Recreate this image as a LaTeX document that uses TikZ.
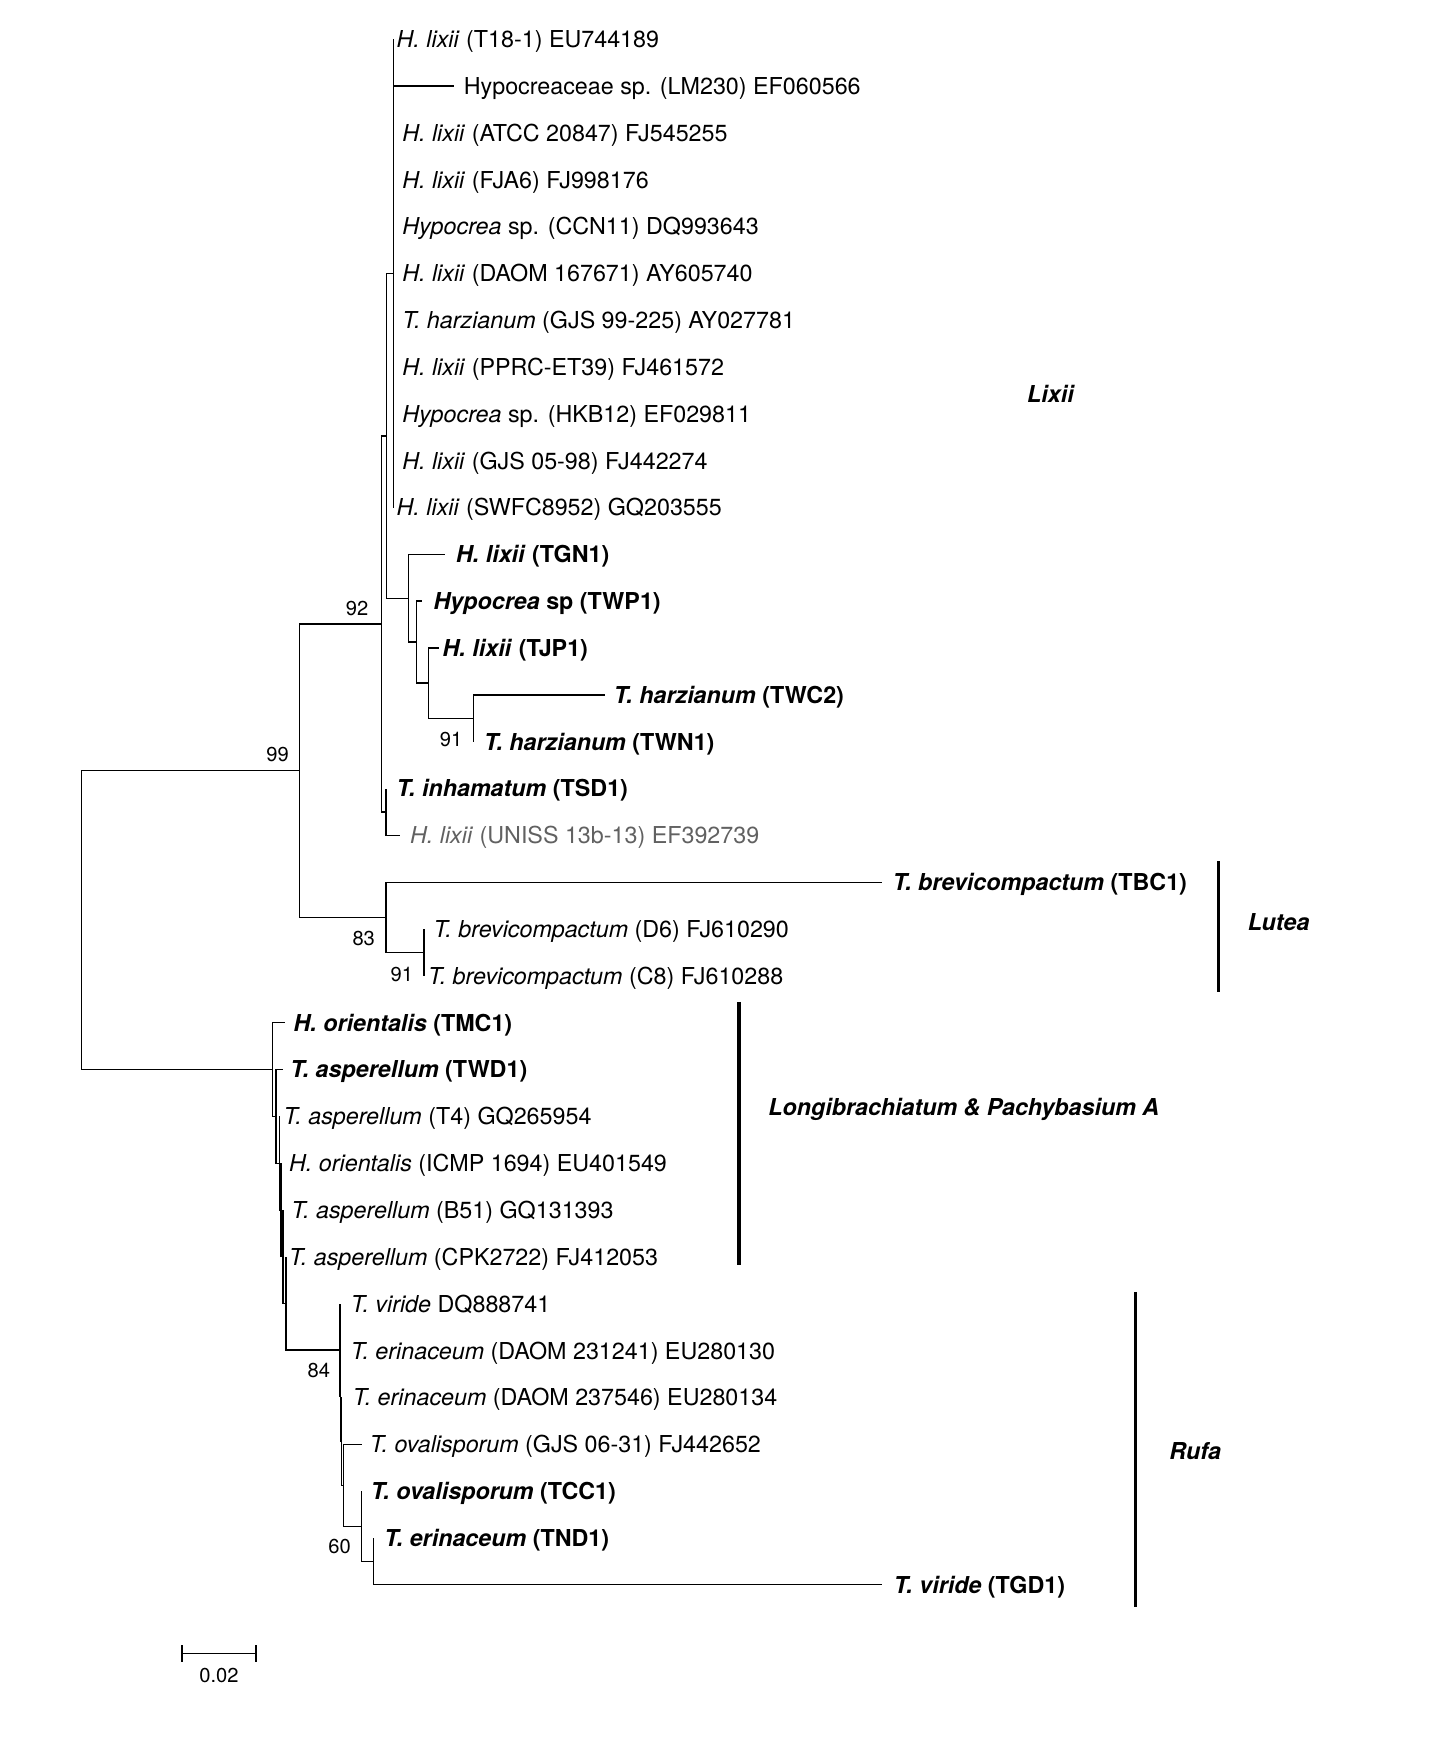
\documentclass[tikz,border=0pt]{standalone}
\usepackage{fontspec}
\setmainfont{TeX Gyre Heros}
\begin{document}
\begin{tikzpicture}[x=1pt,y=-1pt,
  tree/.style={line width=1.25pt, line join=miter},
  cladebar/.style={line width=3.3pt},
  leaf/.style={anchor=base west, inner sep=0pt, font=\fontsize{20.8}{25}\selectfont},
  bleaf/.style={anchor=base west, inner sep=0pt, font=\fontsize{20.8}{25}\selectfont\bfseries},
  boot/.style={anchor=base east, inner sep=0pt, font=\fontsize{18}{22}\selectfont},
  cladelab/.style={anchor=base west, inner sep=0pt, font=\fontsize{20.8}{25}\selectfont\bfseries\itshape}]
\useasboundingbox (0,0) rectangle (1277,1568);

% internal nodes
\coordinate (root) at (73,821.6);
\coordinate (n99) at (267.3,688.1);
\coordinate (n92) at (340.8,557.1);
\coordinate (p2) at (345.3,389.2);
\coordinate (p1) at (351.5,244.1);
\coordinate (tg) at (364.6,534.2);
\coordinate (twp) at (372.1,573.4);
\coordinate (tjp) at (382.5,610.0);
\coordinate (tw) at (422.7,641.4);
\coordinate (inh) at (344.7,725.0);
\coordinate (n83) at (344.7,819.1);
\coordinate (dc) at (378.6,850.5);
\coordinate (l1) at (243.5,955.0);
\coordinate (l2) at (246.5,996.8);
\coordinate (l3) at (249.5,1038.7);
\coordinate (l4) at (251.0,1080.4);
\coordinate (l5) at (252.7,1122.2);
\coordinate (l6) at (255.4,1163.8);
\coordinate (ru0) at (303.6,1205.3);
\coordinate (ruy) at (304.2,1246.5);
\coordinate (ru2) at (305.1,1287.0);
\coordinate (ru3) at (306.9,1326.2);
\coordinate (n60) at (323.0,1362.8);
\coordinate (ntnd) at (333.4,1394.1);

% leaf branch ends
\coordinate (e0) at (351.5,35.0);
\coordinate (e1) at (405,76.8);
\coordinate (e10) at (351.5,453.2);
\coordinate (e11) at (397.4,495.0);
\coordinate (e12) at (376.6,536.8);
\coordinate (e13) at (392.0,578.7);
\coordinate (e14) at (540.0,620.5);
\coordinate (e15) at (422.7,662.3);
\coordinate (e16) at (344.7,704.1);
\coordinate (e17) at (357.2,745.9);
\coordinate (e18) at (788.0,787.8);
\coordinate (e19) at (378.6,829.6);
\coordinate (e20) at (378.6,871.4);
\coordinate (e21) at (254.5,913.2);
\coordinate (e22) at (253.0,955.0);
\coordinate (e23) at (249.5,996.9);
\coordinate (e24) at (251.0,1038.7);
\coordinate (e25) at (252.7,1080.5);
\coordinate (e26) at (255.4,1122.3);
\coordinate (e27) at (303.6,1164.1);
\coordinate (e28) at (304.2,1206.0);
\coordinate (e29) at (305.1,1247.8);
\coordinate (e30) at (323.0,1289.6);
\coordinate (e31) at (323.0,1331.4);
\coordinate (e32) at (333.4,1373.2);
\coordinate (e33) at (788.0,1415.1);

% branches
\draw[tree] (root) |- (n99); \draw[tree] (root) |- (l1);
\draw[tree] (n99) |- (n92); \draw[tree] (n99) |- (n83);
\draw[tree] (n92) |- (p2); \draw[tree] (n92) |- (inh);
\draw[tree] (p2) |- (p1); \draw[tree] (p2) |- (tg);
\draw[tree] (p1) |- (e0); \draw[tree] (p1) |- (e1); \draw[tree] (p1) |- (e10);
\draw[tree] (tg) |- (e11); \draw[tree] (tg) |- (twp);
\draw[tree] (twp) |- (e12); \draw[tree] (twp) |- (tjp);
\draw[tree] (tjp) |- (e13); \draw[tree] (tjp) |- (tw);
\draw[tree] (tw) |- (e14); \draw[tree] (tw) |- (e15);
\draw[tree] (inh) |- (e16); \draw[tree] (inh) |- (e17);
\draw[tree] (n83) |- (e18); \draw[tree] (n83) |- (dc);
\draw[tree] (dc) |- (e19); \draw[tree] (dc) |- (e20);
\draw[tree] (l1) |- (e21); \draw[tree] (l1) |- (l2);
\draw[tree] (l2) |- (e22); \draw[tree] (l2) |- (l3);
\draw[tree] (l3) |- (e23); \draw[tree] (l3) |- (l4);
\draw[tree] (l4) |- (e24); \draw[tree] (l4) |- (l5);
\draw[tree] (l5) |- (e25); \draw[tree] (l5) |- (l6);
\draw[tree] (l6) |- (e26); \draw[tree] (l6) |- (ru0);
\draw[tree] (ru0) |- (e27); \draw[tree] (ru0) |- (ruy);
\draw[tree] (ruy) |- (e28); \draw[tree] (ruy) |- (ru2);
\draw[tree] (ru2) |- (e29); \draw[tree] (ru2) |- (ru3);
\draw[tree] (ru3) |- (e30); \draw[tree] (ru3) |- (n60);
\draw[tree] (n60) |- (e31); \draw[tree] (n60) |- (ntnd);
\draw[tree] (ntnd) |- (e32); \draw[tree] (ntnd) |- (e33);

% leaf labels
\node[leaf] (t0) at (354,42.5) {\textit{H. lixii} (T18-1) EU744189};
\node[leaf] (t1) at (414,84.3) {Hypocreaceae sp. (LM230) EF060566};
\node[leaf] (t2) at (359,126.1) {\textit{H. lixii} (ATCC 20847) FJ545255};
\node[leaf] (t3) at (359,168.0) {\textit{H. lixii} (FJA6) FJ998176};
\node[leaf] (t4) at (359,209.8) {\textit{Hypocrea} sp. (CCN11) DQ993643};
\node[leaf] (t5) at (359,251.6) {\textit{H. lixii} (DAOM 167671) AY605740};
\node[leaf] (t6) at (359,293.4) {\textit{T. harzianum} (GJS 99-225) AY027781};
\node[leaf] (t7) at (359,335.2) {\textit{H. lixii} (PPRC-ET39) FJ461572};
\node[leaf] (t8) at (359,377.1) {\textit{Hypocrea} sp. (HKB12) EF029811};
\node[leaf] (t9) at (359,418.9) {\textit{H. lixii} (GJS 05-98) FJ442274};
\node[leaf] (t10) at (354,460.7) {\textit{H. lixii} (SWFC8952) GQ203555};
\node[bleaf] (t11) at (407,502.5) {\textit{H. lixii} (TGN1)};
\node[bleaf] (t12) at (387,544.3) {\textit{Hypocrea} sp (TWP1)};
\node[bleaf] (t13) at (395,586.2) {\textit{H. lixii} (TJP1)};
\node[bleaf] (t14) at (548,628.0) {\textit{T. harzianum} (TWC2)};
\node[bleaf] (t15) at (432,669.8) {\textit{T. harzianum} (TWN1)};
\node[bleaf] (t16) at (354,711.6) {\textit{T. inhamatum} (TSD1)};
\node[leaf, text=black!62] (t17) at (366,753.4) {\textit{H. lixii} (UNISS 13b-13) EF392739};
\node[bleaf] (t18) at (797,795.3) {\textit{T. brevicompactum} (TBC1)};
\node[leaf] (t19) at (387,837.1) {\textit{T. brevicompactum} (D6) FJ610290};
\node[leaf] (t20) at (382,878.9) {\textit{T. brevicompactum} (C8) FJ610288};
\node[bleaf] (t21) at (262,920.7) {\textit{H. orientalis} (TMC1)};
\node[bleaf] (t22) at (259,962.5) {\textit{T. asperellum} (TWD1)};
\node[leaf] (t23) at (253,1004.4) {\textit{T. asperellum} (T4) GQ265954};
\node[leaf] (t24) at (258,1046.2) {\textit{H. orientalis} (ICMP 1694) EU401549};
\node[leaf] (t25) at (260,1088.0) {\textit{T. asperellum} (B51) GQ131393};
\node[leaf] (t26) at (258,1129.8) {\textit{T. asperellum} (CPK2722) FJ412053};
\node[leaf] (t27) at (313,1171.6) {\textit{T. viride} DQ888741};
\node[leaf] (t28) at (313,1213.5) {\textit{T. erinaceum} (DAOM 231241) EU280130};
\node[leaf] (t29) at (315,1255.3) {\textit{T. erinaceum} (DAOM 237546) EU280134};
\node[leaf] (t30) at (330,1297.1) {\textit{T. ovalisporum} (GJS 06-31) FJ442652};
\node[bleaf] (t31) at (331,1338.9) {\textit{T. ovalisporum} (TCC1)};
\node[bleaf] (t32) at (343,1380.7) {\textit{T. erinaceum} (TND1)};
\node[bleaf] (t33) at (798,1422.6) {\textit{T. viride} (TGD1)};

% bootstrap values
\node[boot] (b99) at (258,680.3) {99};
\node[boot] (b92) at (329,549.3) {92};
\node[boot] (b91a) at (413,666.3) {91};
\node[boot] (b83) at (335,844.3) {83};
\node[boot] (b91b) at (369,876.3) {91};
\node[boot] (b84) at (295,1230.3) {84};
\node[boot] (b60) at (313.5,1387.3) {60};

% clade bars and names
\coordinate (lutA) at (1088,769); \coordinate (lutB) at (1088,886);
\draw[cladebar] (lutA) -- (lutB);
\coordinate (lonA) at (660,894.5); \coordinate (lonB) at (660,1129.7);
\draw[cladebar] (lonA) -- (lonB);
\coordinate (rufA) at (1014,1153.5); \coordinate (rufB) at (1014,1434.8);
\draw[cladebar] (rufA) -- (rufB);
\node[cladelab] (cLixii) at (917,359.5) {Lixii};
\node[cladelab] (cLutea) at (1114,830.5) {Lutea};
\node[cladelab] (cLong) at (686,995.8) {Longibrachiatum \& Pachybasium A};
\node[cladelab] (cRufa) at (1044,1303.5) {Rufa};

% scale bar
\coordinate (sbA) at (162.5,1476.5); \coordinate (sbB) at (228.5,1476.5);
\draw[tree] (sbA) -- (sbB);
\draw[tree] ([yshift=-7.5pt]sbA) -- ([yshift=7.5pt]sbA);
\draw[tree] ([yshift=-7.5pt]sbB) -- ([yshift=7.5pt]sbB);
\node[anchor=base, inner sep=0pt, font=\fontsize{18}{22}\selectfont] (sbl) at (195.5,1502) {0.02};
\end{tikzpicture}
\end{document}
